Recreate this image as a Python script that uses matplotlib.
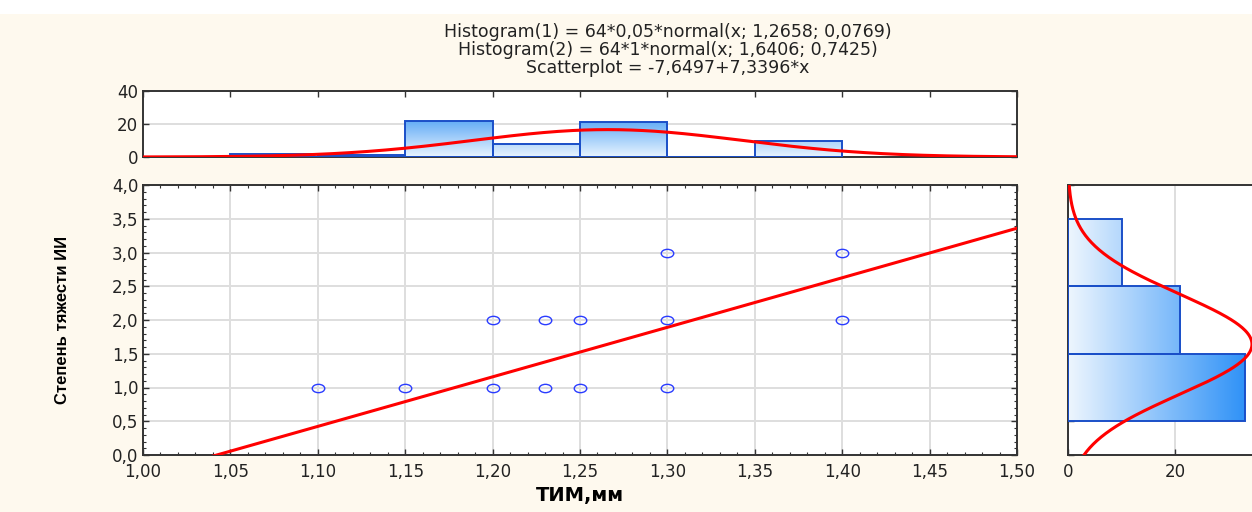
import matplotlib
matplotlib.use("Agg")
import matplotlib.pyplot as plt
import numpy as np
from matplotlib.colors import LinearSegmentedColormap
from matplotlib.path import Path
from matplotlib.ticker import FuncFormatter, MultipleLocator, FixedLocator

# data
tim_x = [1.10, 1.15, 1.20, 1.20, 1.23, 1.23, 1.25, 1.25, 1.30, 1.30, 1.30, 1.40, 1.40]
grade_y = [1, 1, 1, 2, 1, 2, 1, 2, 1, 2, 3, 2, 3]

top_bin_left = [1.05, 1.10, 1.15, 1.20, 1.25, 1.30, 1.35]
top_counts = [2, 1, 22, 8, 21, 0, 10]
top_bin_width = 0.05

right_bin_low = [0.5, 1.5, 2.5]
right_counts = [33, 21, 10]
right_bin_width = 1.0
right_ticks = [0, 20]

n_total = 64
fit1_mean, fit1_sd = 1.2658, 0.0769
fit2_mean, fit2_sd = 1.6406, 0.7425
reg_a, reg_b = -7.6497, 7.3396

title_lines = [
    "Histogram(1) = 64*0,05*normal(x; 1,2658; 0,0769)",
    "Histogram(2) = 64*1*normal(x; 1,6406; 0,7425)",
    "Scatterplot = -7,6497+7,3396*x",
]

BG = "#fef9ee"
GRID = "#dedede"
EDGE = "#1a4fc8"
RED = "#ff0000"
W, H = 1252, 512

plt.rcParams["font.family"] = ["DejaVu Sans"]


def normal(x, m, s):
    return np.exp(-0.5 * ((x - m) / s) ** 2) / (s * np.sqrt(2 * np.pi))


def px_axes(fig, left, top, right, bottom):
    return fig.add_axes([left / W, 1 - bottom / H, (right - left) / W, (bottom - top) / H])


def comma(decimals):
    return FuncFormatter(lambda v, p: f"{v:.{decimals}f}".replace(".", ","))


def style(ax):
    ax.set_facecolor("white")
    for s in ax.spines.values():
        s.set_color("#333333")
        s.set_linewidth(1.4)
    ax.tick_params(which="both", direction="in", colors="#333333", labelcolor="#222222",
                   labelsize=12, top=True, right=True)
    ax.tick_params(which="major", length=4, width=1)
    ax.tick_params(which="minor", length=2, width=0.8)
    ax.tick_params(axis="x", pad=6)
    ax.grid(True, which="major", color=GRID, linewidth=1.4)
    ax.set_axisbelow(True)


def gradient_bars(ax, bars, extent, colors, vertical):
    cmap = LinearSegmentedColormap.from_list("g", colors)
    grad = np.linspace(0, 1, 256)
    img = grad.reshape(-1, 1) if vertical else grad.reshape(1, -1)
    for b in bars:
        im = ax.imshow(img, cmap=cmap, extent=extent, origin="lower", aspect="auto",
                       zorder=2, interpolation="bilinear")
        im.set_clip_path(b)
        b.set_zorder(3)


fig = plt.figure(figsize=(W / 100, H / 100), dpi=100)
fig.patch.set_facecolor(BG)
fig.add_artist(plt.Rectangle((0, 1 - 14 / H), 1, 14 / H, transform=fig.transFigure,
                             facecolor="white", edgecolor="none", zorder=0))

# main scatter
ax = px_axes(fig, 143, 185, 1017, 455)
style(ax)
ax.set_xlim(1.0, 1.5)
ax.set_ylim(0, 4)
ax.xaxis.set_major_locator(MultipleLocator(0.05))
ax.xaxis.set_minor_locator(MultipleLocator(0.01))
ax.yaxis.set_major_locator(MultipleLocator(0.5))
ax.yaxis.set_minor_locator(MultipleLocator(0.1))
ax.xaxis.set_major_formatter(comma(2))
ax.yaxis.set_major_formatter(comma(1))
ell = Path(Path.unit_circle().vertices * np.array([1.5, 1.0]), Path.unit_circle().codes)
ax.plot(tim_x, grade_y, linestyle="none", marker=ell, markersize=9, markerfacecolor="none",
        markeredgecolor="#2a3cff", markeredgewidth=1.0, zorder=4)
xs = np.linspace(1.0, 1.5, 200)
ax.plot(xs, reg_a + reg_b * xs, color=RED, linewidth=2.2, zorder=3)
ax.set_xlabel("ТИМ,мм", fontsize=14, fontweight="bold", labelpad=3)
ax.set_ylabel("Степень тяжести ИИ", fontsize=12, fontweight="bold",
              family=["Liberation Sans Narrow", "Liberation Sans"], labelpad=30)

# top histogram
axt = px_axes(fig, 143, 91, 1017, 157)
style(axt)
axt.set_xlim(1.0, 1.5)
axt.set_ylim(0, 40)
axt.xaxis.set_major_locator(MultipleLocator(0.05))
axt.yaxis.set_major_locator(MultipleLocator(20))
axt.tick_params(labelbottom=False, bottom=False)
axt.grid(False, axis="x")
tb = axt.bar(top_bin_left, top_counts, width=top_bin_width, align="edge",
             facecolor="none", edgecolor=EDGE, linewidth=1.4)
gradient_bars(axt, tb, (1.0, 1.5, 0, 23), ["#e9f4fe", "#5ba8f6"], vertical=True)
xs = np.linspace(1.0, 1.5, 300)
axt.plot(xs, n_total * top_bin_width * normal(xs, fit1_mean, fit1_sd), color=RED,
         linewidth=2.2, zorder=4)
axt.set_xlim(1.0, 1.5)
axt.set_ylim(0, 40)

# right histogram
axr = px_axes(fig, 1068, 185, 1282, 455)
style(axr)
axr.set_xlim(0, 40)
axr.set_ylim(0, 4)
axr.xaxis.set_major_locator(FixedLocator(right_ticks))
axr.yaxis.set_major_locator(MultipleLocator(0.5))
axr.tick_params(labelleft=False, top=False)
axr.grid(False, axis="y")
rb = axr.barh(right_bin_low, right_counts, height=right_bin_width, align="edge",
              facecolor="none", edgecolor=EDGE, linewidth=1.4)
gradient_bars(axr, rb, (0, 34, 0, 4), ["#eef6fe", "#2a8ff7"], vertical=False)
ys = np.linspace(0, 4, 300)
axr.plot(n_total * right_bin_width * normal(ys, fit2_mean, fit2_sd), ys, color=RED,
         linewidth=2.2, zorder=4)
axr.set_xlim(0, 40)
axr.set_ylim(0, 4)

for i, line in enumerate(title_lines):
    fig.text(668 / W, 1 - (32 + i * 18) / H, line, ha="center", va="center", fontsize=12.5,
             color="#222222")

fig.savefig("out.png", dpi=100, facecolor=BG)
